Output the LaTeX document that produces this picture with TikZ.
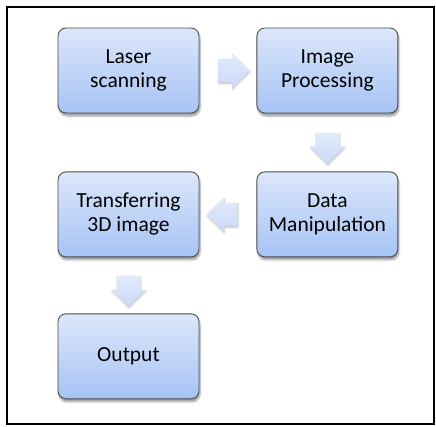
\documentclass[tikz,border=0pt]{standalone}
\usepackage{fontspec}
\setmainfont{Carlito}
\usetikzlibrary{positioning, calc, shapes.arrows, shadows.blur}

\definecolor{boxtop}{HTML}{DCE7FB}
\definecolor{boxbot}{HTML}{A6C3F5}
\definecolor{arrtop}{HTML}{E2EBFB}
\definecolor{arrbot}{HTML}{C9D9F6}

\tikzset{
  stage/.style={rectangle, rounded corners=8pt, draw=black!70, line width=0.9pt,
    top color=boxtop, bottom color=boxbot, minimum width=141pt, minimum height=85pt,
    align=center, font=\fontsize{21.5}{24}\selectfont,
    blur shadow={shadow xshift=1pt, shadow yshift=-3pt, shadow blur steps=6, shadow opacity=40}},
  flow/.style={single arrow, draw=none, top color=arrtop, bottom color=arrbot,
    minimum height=31pt, minimum width=0pt, single arrow head extend=5.5pt,
    single arrow head indent=0pt, inner xsep=0pt, inner ysep=11.5pt,
    blur shadow={shadow xshift=0.5pt, shadow yshift=-1.5pt, shadow blur steps=4, shadow opacity=25}},
  flowdown/.style={flow, shape border rotate=270, inner xsep=11.5pt, inner ysep=0pt}
}

\begin{document}
\begin{tikzpicture}[x=1pt, y=-1pt]
  \useasboundingbox (0,0) rectangle (436,426);
  \draw[line width=1.4pt] (7,7) rectangle (434,424);

  \node[stage] (laser) at (128.5,70.5) {Laser\\scanning};
  \node[stage, right=57pt of laser] (image) {Image\\Processing};
  \node[stage, below=58pt of image] (data) {Data\\Manipulation};
  \node[stage, left=57pt of data] (transfer) {Transferring\\3D image};
  \node[stage, below=56pt of transfer] (output) {Output};

  % block arrows between the stages
  \node[flow] (a1) at ($(laser.east)!0.5!(image.west)$) {};
  \node[flowdown] (a2) at ($(image.south)!0.5!(data.north)$) {};
  \node[flow, shape border rotate=180] (a3) at ($(data.west)!0.5!(transfer.east)$) {};
  \node[flowdown] (a4) at ($(transfer.south)!0.5!(output.north)$) {};
\end{tikzpicture}
\end{document}
